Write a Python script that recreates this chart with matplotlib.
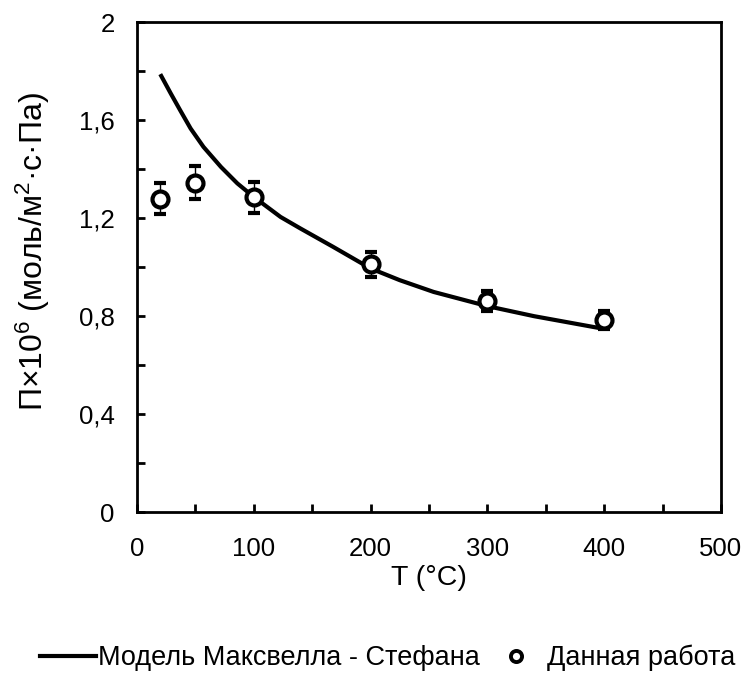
import matplotlib
matplotlib.use('Agg')
from matplotlib import pyplot as plt
from matplotlib.lines import Line2D
from matplotlib.ticker import MultipleLocator, FuncFormatter

plt.rcParams['font.family'] = ['Liberation Sans', 'DejaVu Sans']
plt.rcParams['mathtext.fontset'] = 'custom'
plt.rcParams['mathtext.rm'] = 'Liberation Sans'
plt.rcParams['mathtext.it'] = 'Liberation Sans'

# measured permeance, this work
exp_t = [20, 50, 100, 200, 300, 400]
exp_perm = [1.28, 1.345, 1.285, 1.012, 0.862, 0.785]
exp_err = [0.063, 0.067, 0.063, 0.051, 0.041, 0.037]

# Maxwell-Stefan model curve
model_t = [20, 29, 37, 46, 57, 72, 86, 100, 123, 140, 168, 200, 225, 254, 300, 340, 400]
model_perm = [1.788, 1.709, 1.641, 1.566, 1.491, 1.409, 1.342, 1.287, 1.205, 1.158,
              1.083, 0.995, 0.947, 0.899, 0.841, 0.800, 0.748]


def comma(v, pos):
    return f'{v:g}'.replace('.', ',')


fig = plt.figure(figsize=(7.44, 6.73), dpi=100)
ax = fig.add_axes([0.184, 0.239, 0.785, 0.728])

ax.plot(model_t, model_perm, color='black', lw=3, solid_capstyle='butt')
ax.errorbar(exp_t, exp_perm, yerr=exp_err, fmt='o', mfc='white', mec='black',
            mew=3, ms=11.5, ecolor='black', elinewidth=1, capsize=4, capthick=1,
            zorder=3)

ax.set_xlim(0, 500)
ax.set_ylim(0, 2)
ax.xaxis.set_major_locator(MultipleLocator(100))
ax.xaxis.set_minor_locator(MultipleLocator(50))
ax.yaxis.set_major_locator(MultipleLocator(0.4))
ax.yaxis.set_minor_locator(MultipleLocator(0.2))
ax.yaxis.set_major_formatter(FuncFormatter(comma))
ax.tick_params(which='both', direction='in', length=6, width=2, labelsize=18.5,
               top=False, right=False)
ax.tick_params(axis='x', pad=18)
ax.tick_params(axis='y', pad=16)
for sp in ax.spines.values():
    sp.set_linewidth(2)

ax.set_xlabel('T (°C)', fontsize=20.5, labelpad=3)
ax.set_ylabel('П×10$^{6}$ (моль/м$^{2}$·с·Па)', fontsize=23)
ax.yaxis.set_label_coords(-0.145, 0.532)

handles = [
    Line2D([], [], color='black', lw=3),
    Line2D([], [], ls='none', marker='o', ms=8, mfc='white', mec='black', mew=2.8),
]
labels = ['Модель Максвелла - Стефана', 'Данная работа']
fig.legend(handles, labels, loc='center', bbox_to_anchor=(0.521, 0.022), ncol=2,
           frameon=False, fontsize=19.5, handlelength=2.05, handletextpad=0.1,
           columnspacing=0.3, borderpad=0, borderaxespad=0)

fig.savefig('out.png', dpi=100)
